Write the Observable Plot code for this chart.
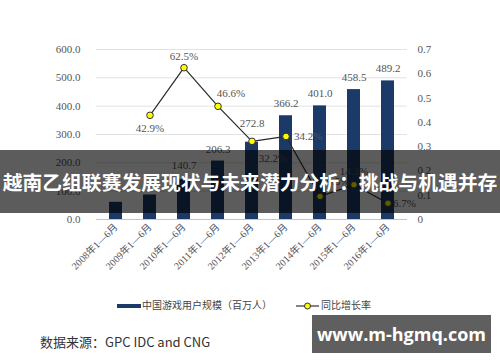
<!DOCTYPE html>
<html>
<head>
<meta charset="utf-8">
<script src="https://cdn.jsdelivr.net/npm/d3@7"></script>
<script src="https://cdn.jsdelivr.net/npm/@observablehq/plot@0.6"></script>
<style>
  body { margin: 0; background: #fff; }
  #wrap { position: relative; width: 500px; height: 362px; overflow: hidden; background: #fff; }
  #chart { position: absolute; left: 0; top: 0; }
  .legend { position: absolute; top: 298px; left: 0; width: 500px; height: 16px; font-family: 'Liberation Serif','Noto Sans CJK SC',serif; font-size: 10px; color: #444; }
  .legend span { position: absolute; top: 0; line-height: 16px; white-space: nowrap; }
  .legend svg { position: absolute; top: 0; }
  .source { position: absolute; left: 40px; top: 333px; font-family: 'Noto Sans CJK SC','Noto Sans',sans-serif; font-size: 13px; color: #333; line-height: 18px; white-space: nowrap; }
  .banner { position: absolute; left: 0; top: 150px; width: 500px; height: 63px; background: rgba(0,0,0,0.64); color: #fff; font-family: 'Noto Sans CJK SC',sans-serif; font-weight: 700; font-size: 19.8px; line-height: 63px; text-align: center; white-space: nowrap; }
  .mark { position: absolute; left: 312px; top: 315px; width: 179px; height: 38px; background: #5f5f5f; color: #fff; font-family: 'Open Sans','Noto Sans',sans-serif; font-weight: 700; font-size: 18px; line-height: 38px; text-align: center; white-space: nowrap; }
</style>
</head>
<body>
<div id="wrap">
  <div id="chart"></div>
  <div class="legend">
    <svg width="24" height="16" style="left:117px"><rect x="0" y="6" width="24" height="4" fill="#1b3a68"></rect></svg>
    <span style="left:142px">中国游戏用户规模（百万人）</span>
    <svg width="24" height="16" style="left:296px"><line x1="0" y1="8" x2="23" y2="8" stroke="#333" stroke-width="1.2"></line><circle cx="11.5" cy="8" r="3" fill="#ffff00" stroke="#333" stroke-width="1"></circle></svg>
    <span style="left:321px">同比增长率</span>
  </div>
  <div class="source">数据来源：GPC IDC and CNG</div>
  <div class="banner">越南乙组联赛发展现状与未来潜力分析：挑战与机遇并存</div>
  <div class="mark">www.m-hgmq.com</div>
</div>
<script>
const years = ["2008年1—6月","2009年1—6月","2010年1—6月","2011年1—6月","2012年1—6月","2013年1—6月","2014年1—6月","2015年1—6月","2016年1—6月"];
const users = [60.6, 86.6, 140.7, 206.3, 272.8, 366.2, 401.0, 458.5, 489.2];
const userLabels = ["", "", "140.7", "206.3", "272.8", "366.2", "401.0", "458.5", "489.2"];
const growth = [null, 0.429, 0.625, 0.466, 0.322, 0.342, 0.095, 0.143, 0.067];
const growthLabels = ["", "42.9%", "62.5%", "46.6%", "32.2%", "34.2%", "9.5%", "14.3%", "6.7%"];
const leftTicks = [0, 100, 200, 300, 400, 500, 600];
const rightTicks = [0, 0.1, 0.2, 0.3, 0.4, 0.5, 0.6, 0.7];

const leftMax = 600, rightMax = 0.7;
const k = leftMax / rightMax;

const rows = years.map((y, i) => ({year: y, users: users[i], ulabel: userLabels[i], growth: growth[i], glabel: growthLabels[i], i}));
const lineRows = rows.filter(d => d.growth != null);

// label placement per point (dx, dy, anchor)
const gPlace = {
  1: {dx: 0, dy: 13, a: "middle"},
  2: {dx: 0, dy: -11, a: "middle"},
  3: {dx: 13, dy: -13, a: "middle"},
  4: {dx: 21, dy: 17, a: "middle"},
  5: {dx: 8, dy: 0, a: "start"},
  6: {dx: 18, dy: -15, a: "middle"},
  7: {dx: 0, dy: -13, a: "middle"},
  8: {dx: 5, dy: 0, a: "start"}
};
const bPlace = {4: -19, 2: -14};

const font = "'Liberation Serif','Noto Sans CJK SC',serif";
const txtColor = "#555";

const marks = [
  Plot.ruleY(leftTicks.filter(d => d > 0), {stroke: "#e2e2e2", strokeWidth: 1}),
  Plot.ruleY([0], {stroke: "#c4c4c4", strokeWidth: 1}),
  Plot.barY(rows, {x: "year", y: "users", fill: "#1b3a68"}),
  Plot.text(rows.filter(d => d.ulabel), {x: "year", y: "users", text: "ulabel", dy: -12, fill: txtColor, fontSize: 11, filter: d => bPlace[d.i] == null}),
  ...Object.keys(bPlace).map(i => Plot.text([rows[+i]], {x: "year", y: "users", text: "ulabel", dy: bPlace[i], fill: txtColor, fontSize: 11})),
  Plot.line(lineRows, {x: "year", y: d => d.growth * k, stroke: "#2a2a2a", strokeWidth: 1.2}),
  Plot.dot(lineRows, {x: "year", y: d => d.growth * k, r: 3.3, fill: "#ffff00", stroke: "#333", strokeWidth: 1}),
  ...lineRows.map(d => {
    const p = gPlace[d.i];
    return Plot.text([d], {x: "year", y: r => r.growth * k, text: "glabel", dx: p.dx, dy: p.dy, textAnchor: p.a, fill: txtColor, fontSize: 11});
  }),
  Plot.axisY(leftTicks, {tickSize: 0, tickPadding: 16, tickFormat: d => d.toFixed(1), fontSize: 11, fill: txtColor, label: null}),
  Plot.text(rightTicks, {y: d => d * k, text: d => d === 0 ? "0" : d.toFixed(1), frameAnchor: "right", textAnchor: "start", dx: 10, fontSize: 11, fill: txtColor}),
  Plot.axisX({tickRotate: -45, tickSize: 0, tickPadding: 6, fontSize: 10, fill: txtColor, label: null})
];

const chart = Plot.plot({
  width: 500,
  height: 290,
  marginTop: 49,
  marginBottom: 71,
  marginLeft: 96,
  marginRight: 93,
  style: {fontFamily: font, fontSize: "11px", background: "transparent", color: txtColor},
  x: {domain: years, paddingInner: 0.62, paddingOuter: 0.31},
  y: {domain: [0, leftMax]},
  marks
});
document.getElementById("chart").appendChild(chart);
</script>
</body>
</html>
